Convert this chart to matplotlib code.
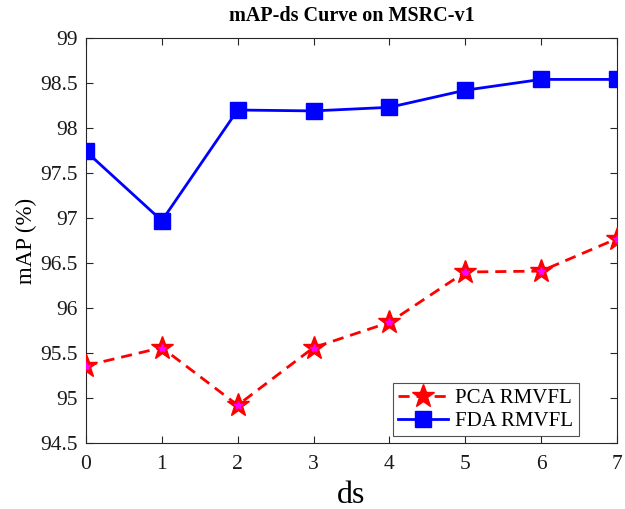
import matplotlib
matplotlib.use("Agg")
import matplotlib.pyplot as plt

plt.rcParams["font.family"] = ["Liberation Serif", "DejaVu Serif"]

ds = [0, 1, 2, 3, 4, 5, 6, 7]
pca_map = [95.36, 95.56, 94.92, 95.56, 95.84, 96.40, 96.41, 96.77]
fda_map = [97.74, 96.97, 98.20, 98.19, 98.23, 98.42, 98.54, 98.54]
yticks = [94.5, 95, 95.5, 96, 96.5, 97, 97.5, 98, 98.5, 99]
ytick_labels = ["94.5", "95", "95.5", "96", "96.5", "97", "97.5", "98", "98.5", "99"]

fig = plt.figure(figsize=(6.25, 5.09), dpi=100)
ax = fig.add_axes([0.1376, 0.1297, 0.8494, 0.7956])

ax.plot(ds, pca_map, color="red", linestyle="--", linewidth=2, dashes=(4, 2.5),
        marker="*", markersize=17, markerfacecolor="red", markeredgecolor="red",
        label="PCA RMVFL", zorder=3)
ax.plot(ds, pca_map, linestyle="none", marker="*", markersize=6,
        color="magenta", zorder=4)
ax.plot(ds, fda_map, color="blue", linestyle="-", linewidth=2,
        marker="s", markersize=11.5, markerfacecolor="blue", markeredgecolor="blue",
        label="FDA RMVFL", zorder=3)

ax.set_xlim(0, 7)
ax.set_ylim(94.5, 99)
ax.set_xticks(ds)
ax.set_yticks(yticks)
ax.set_yticklabels(ytick_labels)
ax.tick_params(direction="in", top=True, right=True, labelsize=15.5, length=5,
               width=0.8, colors="#262626", labelcolor="#1a1a1a")
ax.tick_params(axis="x", pad=9)
ax.tick_params(axis="y", pad=6)
for s in ax.spines.values():
    s.set_color("#262626")
    s.set_linewidth(0.8)

ax.set_title("mAP-ds Curve on MSRC-v1", fontsize=14.5, fontweight="bold", pad=12)
ax.set_xlabel("ds", fontsize=23, labelpad=5)
ax.set_ylabel("mAP (%)", fontsize=16.5, labelpad=2)

leg = ax.legend(loc="lower right", bbox_to_anchor=(0.928, 0.017), fontsize=15,
                frameon=True, fancybox=False, edgecolor="#262626",
                handlelength=2.4, borderpad=0.25, labelspacing=0.15,
                handletextpad=0.35, borderaxespad=0)
leg.get_frame().set_linewidth(0.8)

fig.savefig("out.png", dpi=100)
